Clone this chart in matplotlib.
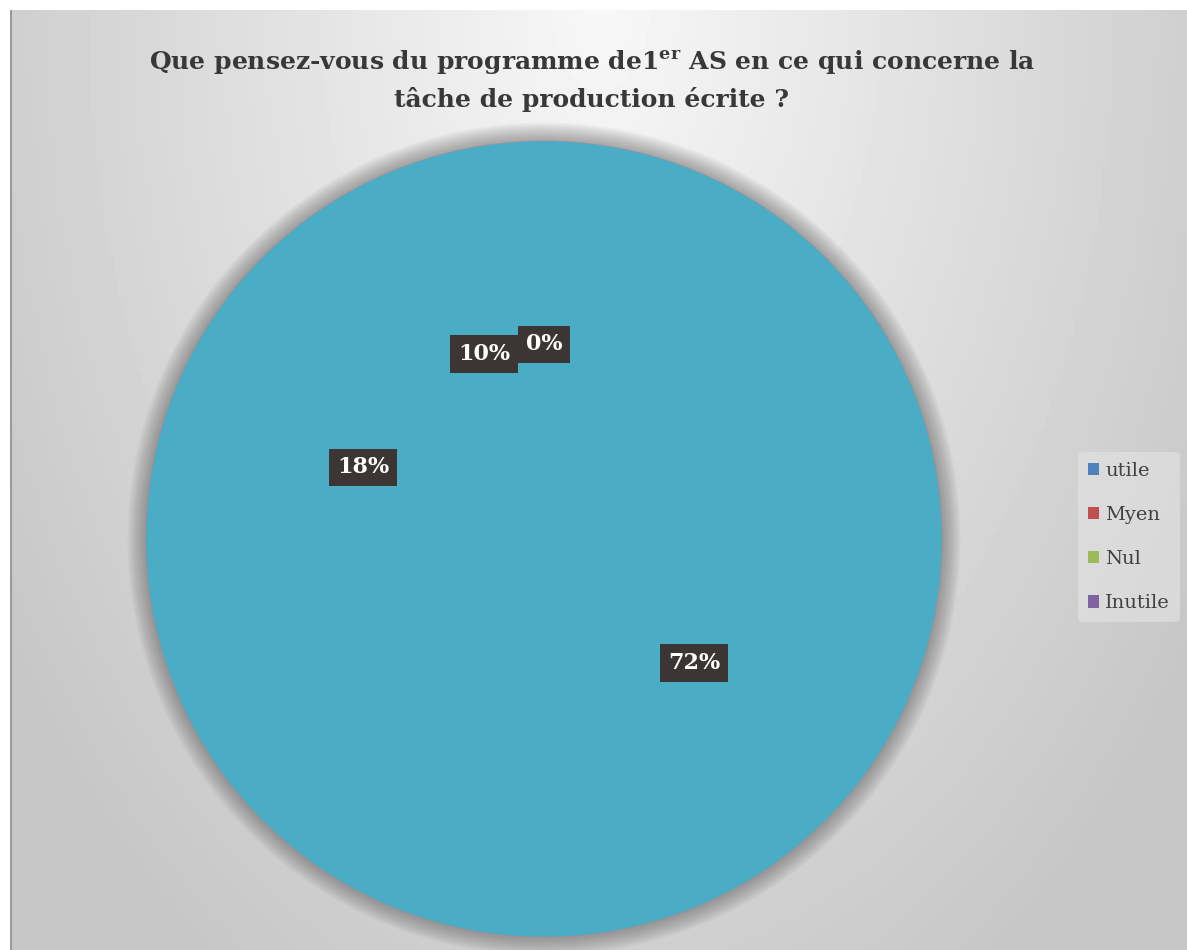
import numpy as np
import matplotlib.pyplot as plt
from matplotlib.patches import Patch, Circle

# data
categories = ['utile', 'Myen', 'Nul', 'Inutile']
values = [72, 18, 10, 0]
legend_colors = ['#4F81BD', '#C0504D', '#9BBB59', '#8064A2']
slice_color = '#4BACC6'
title = "Que pensez-vous du programme de1$^{\\mathregular{er}}$ AS en ce qui concerne la\ntâche de production écrite ?"

W, H = 1187, 950
fig = plt.figure(figsize=(W / 100, H / 100), dpi=100)

# background panel with radial gradient
bg = fig.add_axes([10 / W, 0, 1 - 10 / W, (H - 10) / H])
yy, xx = np.mgrid[0:200, 0:250]
d = np.sqrt(((xx - 125) / 125.0) ** 2 + ((yy - 0) / 200.0) ** 2)
grad = 0.97 - 0.19 * np.clip(d, 0, 1.2) / 1.2
bg.imshow(grad, cmap='gray', vmin=0, vmax=1, aspect='auto', extent=[0, 1, 0, 1])
bg.set_xlim(0, 1)
bg.set_ylim(0, 1)
bg.axvline(0.001, color='#9a9a9a', lw=1.5)
bg.axis('off')

# cut-off heading above the panel
for ch, px in [('g', 372), ('p', 510), ('p', 860)]:
    fig.text(px / W, 1.0 + 14 / H, ch, fontsize=22, fontweight='bold',
             family='DejaVu Serif', ha='center', va='baseline')

fig.text(592 / W, 1 - 80 / H, title, ha='center', va='center', fontsize=18,
         fontweight='bold', family='DejaVu Serif', color='#383838',
         linespacing=1.5)

R = 397
cx, cy = 544, 539
lim = 1.08
ax = fig.add_axes([(cx - R * lim) / W, (H - cy - R * lim) / H, 2 * R * lim / W, 2 * R * lim / H])

# soft shadow around the pie
for i in range(14):
    ax.add_patch(Circle((0, 0), 1.0 + 0.0035 * (14 - i), color='#5a5a5a',
                        alpha=0.045, lw=0, zorder=0))
ax.add_patch(Circle((0, 0), 1.004, color='#b08888', alpha=0.6, lw=0, zorder=0.5))

wedges, texts, autotexts = ax.pie(values, colors=[slice_color] * len(values),
                                  startangle=90, counterclock=False, radius=1,
                                  autopct='%1.0f%%', pctdistance=0.49,
                                  wedgeprops=dict(linewidth=1.2, edgecolor=slice_color))
ax.set_xlim(-lim, lim)
ax.set_ylim(-lim, lim)
ax.axis('off')

for t in autotexts:
    t.set_color('white')
    t.set_fontsize(16)
    t.set_fontweight('bold')
    t.set_family('DejaVu Serif')
    t.set_bbox(dict(boxstyle='square,pad=0.35', fc='#3b3633', ec='none'))

handles = [Patch(facecolor=c, edgecolor='none', label=n) for c, n in zip(legend_colors, categories)]
leg = fig.legend(handles=handles, loc='center left', bbox_to_anchor=(1078 / W, 1 - 537 / H),
                 frameon=True, fontsize=14, handlelength=0.6, handleheight=0.6,
                 handletextpad=0.3, labelspacing=1.35, borderpad=0.5, borderaxespad=0)
leg.get_frame().set_facecolor('#e4e4e4')
leg.get_frame().set_edgecolor('none')
leg.get_frame().set_alpha(0.6)
for t in leg.get_texts():
    t.set_family('DejaVu Serif')
    t.set_color('#404040')

fig.savefig('out.png', dpi=100)
